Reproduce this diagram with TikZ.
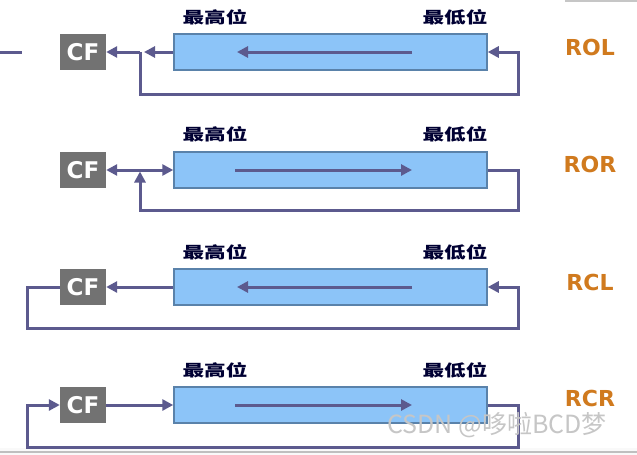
\documentclass[tikz,border=0pt]{standalone}
\usepackage{fontspec}
\usepackage{graphicx}
\setmainfont{DejaVu Sans}
\newfontfamily\cjk{Noto Sans CJK SC}
\usetikzlibrary{arrows.meta}
\definecolor{regfill}{HTML}{8CC4F8}
\definecolor{regdraw}{HTML}{5A82AA}
\definecolor{wire}{HTML}{5C5A8E}
\definecolor{cfgray}{HTML}{727272}
\definecolor{opcol}{HTML}{D07A1E}
\tikzset{
  regbox/.style={draw=regdraw,line width=1.5pt,fill=regfill,minimum width=313pt,minimum height=36pt,inner sep=0pt},
  cfbox/.style={fill=cfgray,text=white,font=\fontsize{23}{23}\selectfont\bfseries,minimum width=46pt,minimum height=36pt,inner sep=0pt},
  oplabel/.style={text=opcol,font=\fontsize{22}{22}\selectfont\bfseries,inner sep=0pt},
  bitlabel/.style={text=black!80!blue,font=\fontsize{16}{16}\cjk\bfseries,inner sep=0pt},
  wire/.style={draw=wire,line width=3pt},
  arr/.style={wire,-{Triangle[length=11pt,width=11pt]}},
  darr/.style={wire,{Triangle[length=11pt,width=11pt]}-{Triangle[length=11pt,width=11pt]}},
  wmark/.style={text=gray!45,font=\fontsize{25}{25}\cjk,inner sep=0pt}
}
\newcommand{\bitl}[1]{\scalebox{1.35}[1]{#1}}
\begin{document}
\begin{tikzpicture}[x=1pt,y=-1pt]
\useasboundingbox (0,0) rectangle (637,455);
\fill[white] (0,0) rectangle (637,455);
\fill[gray!5] (0,448) rectangle (637,455);
\draw[gray!50,line width=2pt] (0,452) -- (637,452);
\draw[gray!45,line width=2pt] (565,1) -- (637,1);
\coordinate (ds) at (0,52);
\coordinate (de) at (22,52);
\draw[wire] (ds) -- (de);

% ---------- ROL ----------
\node[regbox] (r1) at (330.5,52) {};
\node[cfbox] (c1) at (83,52) {CF};
\node[bitlabel] (h1) at (215,17) {\bitl{最高位}};
\node[bitlabel] (l1) at (455,17) {\bitl{最低位}};
\node[oplabel] (o1) at (590,47) {ROL};
\coordinate (i1a) at (412,52);
\coordinate (i1b) at (237,52);
\draw[arr] (i1a) -- (i1b);
\coordinate (j1) at (140,52);
\coordinate (j1t) at (144,52);
\coordinate (j1d) at (140,94);
\coordinate (k1d) at (518,94);
\coordinate (k1) at (518,52);
\draw[arr] (r1.west) -- (j1t);
\draw[arr] (j1) -- (c1.east);
\draw[arr] (j1) -- (j1d) -- (k1d) -- (k1) -- (r1.east);

% ---------- ROR ----------
\node[regbox] (r2) at (330.5,170) {};
\node[cfbox] (c2) at (83,170) {CF};
\node[bitlabel] (h2) at (215,134) {\bitl{最高位}};
\node[bitlabel] (l2) at (455,134) {\bitl{最低位}};
\node[oplabel] (o2) at (590,164) {ROR};
\coordinate (i2a) at (235,170);
\coordinate (i2b) at (412,170);
\draw[arr] (i2a) -- (i2b);
\coordinate (j2) at (140,171.5);
\coordinate (j2d) at (140,210);
\coordinate (k2d) at (518,210);
\coordinate (k2) at (518,170);
\draw[darr] (c2.east) -- (r2.west);
\draw[arr] (r2.east) -- (k2) -- (k2d) -- (j2d) -- (j2);

% ---------- RCL ----------
\node[regbox] (r3) at (330.5,287) {};
\node[cfbox] (c3) at (83,287) {CF};
\node[bitlabel] (h3) at (215,252) {\bitl{最高位}};
\node[bitlabel] (l3) at (455,252) {\bitl{最低位}};
\node[oplabel] (o3) at (590,282) {RCL};
\coordinate (i3a) at (412,287);
\coordinate (i3b) at (237,287);
\draw[arr] (i3a) -- (i3b);
\coordinate (p3) at (27,287);
\coordinate (p3d) at (27,328);
\coordinate (k3d) at (518,328);
\coordinate (k3) at (518,287);
\draw[arr] (r3.west) -- (c3.east);
\draw[arr] (c3.west) -- (p3) -- (p3d) -- (k3d) -- (k3) -- (r3.east);

% ---------- RCR ----------
\node[regbox] (r4) at (330.5,405) {};
\node[cfbox] (c4) at (83,405) {CF};
\node[bitlabel] (h4) at (215,370) {\bitl{最高位}};
\node[bitlabel] (l4) at (455,370) {\bitl{最低位}};
\node[oplabel] (o4) at (590,398) {RCR};
\coordinate (i4a) at (235,405);
\coordinate (i4b) at (412,405);
\draw[arr] (i4a) -- (i4b);
\coordinate (k4) at (518,405);
\coordinate (k4d) at (518,447);
\coordinate (p4d) at (27,447);
\coordinate (p4) at (27,405);
\draw[arr] (c4.east) -- (r4.west);
\draw[arr] (r4.east) -- (k4) -- (k4d) -- (p4d) -- (p4) -- (c4.west);

\node[wmark] (wm) at (497,425) {CSDN @哆啦BCD梦};
\end{tikzpicture}
\end{document}
